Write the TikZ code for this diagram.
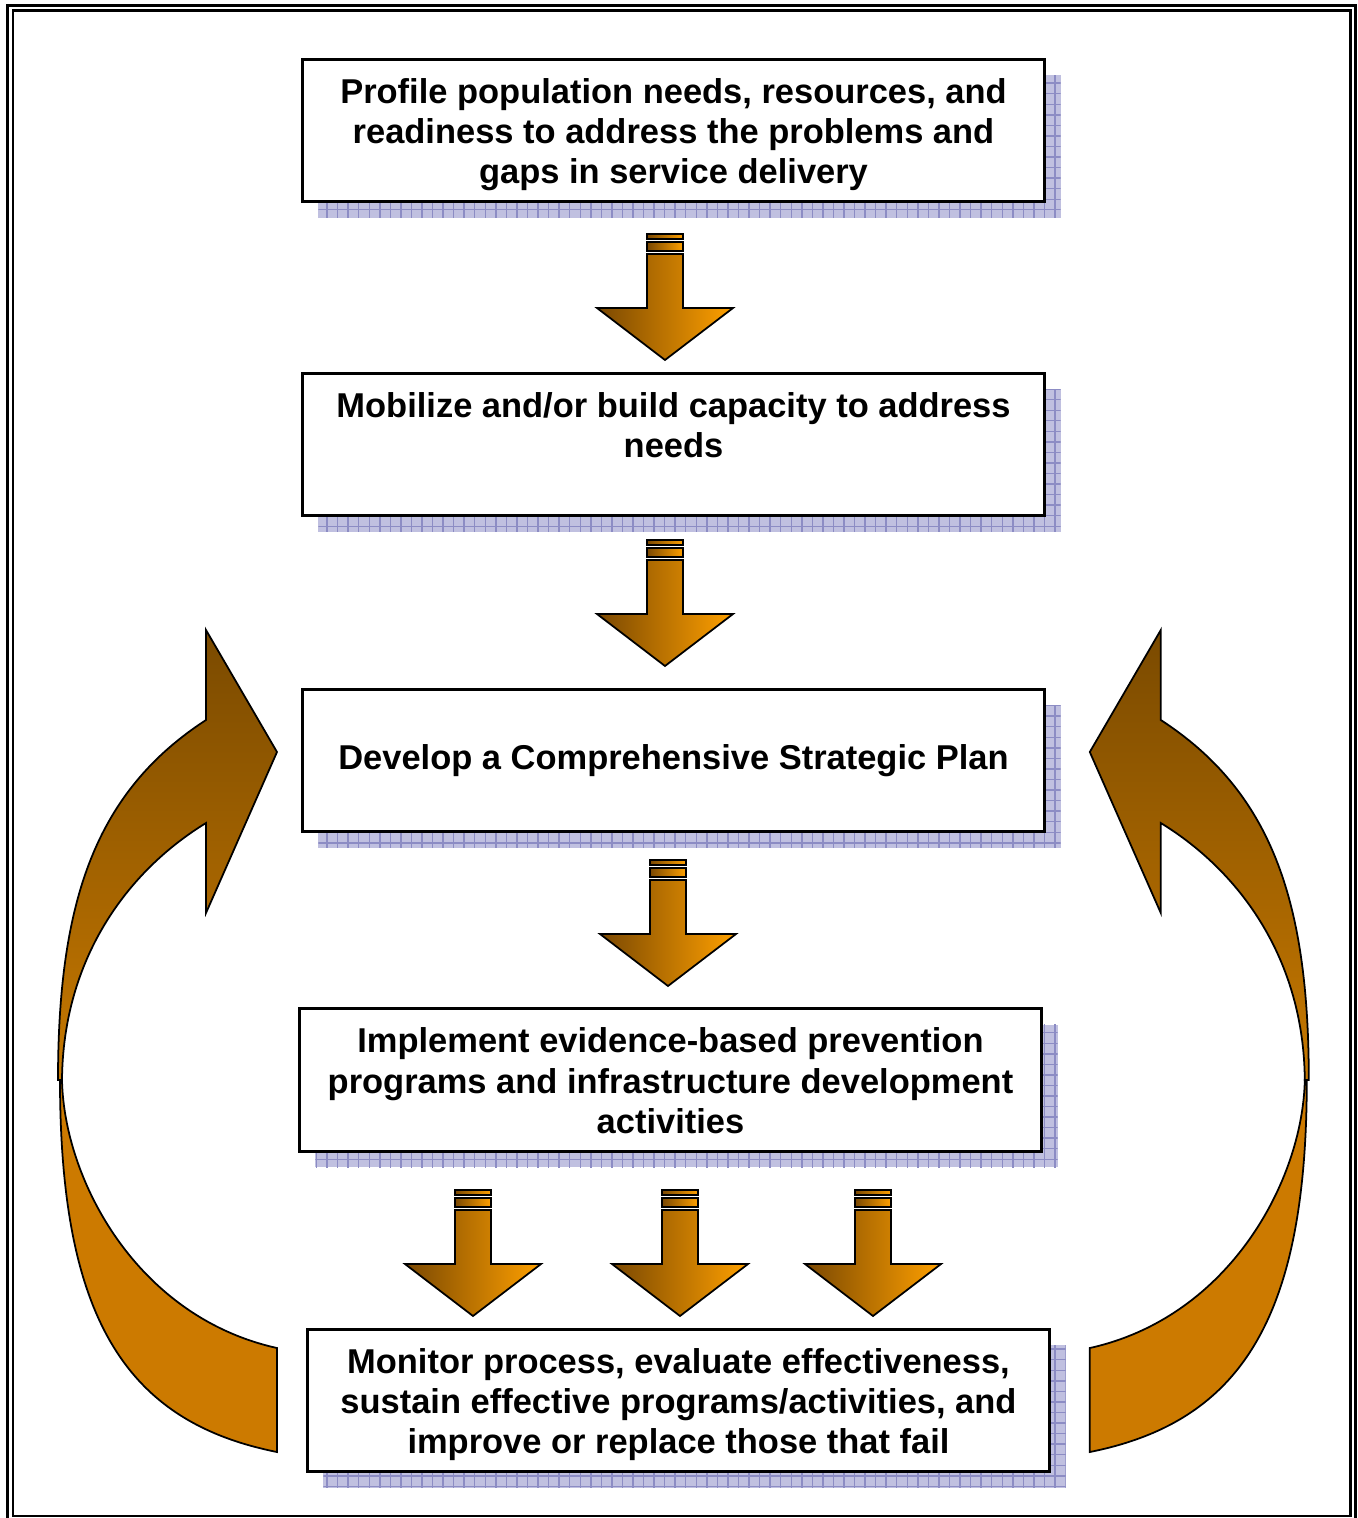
\documentclass[tikz,border=0pt]{standalone}
\usepackage{fontspec}
\setmainfont{Liberation Sans}
\usetikzlibrary{patterns,shadings}

\definecolor{arrowdark}{RGB}{122,72,2}
\definecolor{arroworange}{RGB}{255,160,0}
\definecolor{loopface}{RGB}{204,122,0}
\definecolor{looptop}{RGB}{122,74,0}
\definecolor{loopbottom}{RGB}{198,120,0}
\definecolor{shadefill}{RGB}{192,192,224}
\definecolor{shadegrid}{RGB}{140,140,196}

\newcommand{\boxtext}[2][t]{\parbox[c][1.04cm][#1]{7.3cm}{\centering #2}}

\newcommand{\flowarrow}[2]{%
  \draw[arrowpart] ({#1-18},{#2}) rectangle ({#1+18},{#2+5});
  \draw[arrowpart] ({#1-18},{#2+8}) rectangle ({#1+18},{#2+17});
  \draw[arrowpart] ({#1-18},{#2+20}) -- ({#1+18},{#2+20}) -- ({#1+18},{#2+74}) -- ({#1+68},{#2+74})
    -- ({#1},{#2+126}) -- ({#1-68},{#2+74}) -- ({#1-18},{#2+74}) -- cycle;
}

\newcommand{\loopback}{%
  \draw[backface] (60,1080) .. controls (60,1320) and (127,1422) .. (277,1452) -- (277,1348)
    .. controls (137,1317) and (64,1180) .. (62,1080) -- cycle;
  \draw[frontface] (206,720) -- (206,630) -- (277,752) -- (206,913) -- (206,823)
    .. controls (126,872) and (63,960) .. (62,1080) -- (58,1080)
    .. controls (58,900) and (96,791.5) .. (206,720) -- cycle;
}

\begin{document}
\begin{tikzpicture}[x=0.01cm,y=-0.01cm,
    stepbox/.style={draw, line width=0.85pt, fill=white, minimum width=7.42cm, minimum height=1.42cm,
      inner xsep=0pt, inner ysep=0.19cm, font=\fontsize{9.8}{11.4}\selectfont\bfseries,
      preaction={fill=shadefill, transform canvas={xshift=0.16cm,yshift=-0.16cm}},
      preaction={pattern=grid, pattern color=shadegrid, transform canvas={xshift=0.16cm,yshift=-0.16cm}}},
    arrowpart/.style={draw, line width=0.5pt, left color=arrowdark, right color=arroworange},
    backface/.style={draw, line width=0.5pt, fill=loopface},
    frontface/.style={draw, line width=0.5pt, top color=looptop, bottom color=loopbottom}]
  \useasboundingbox (0,0) rectangle (1358,1518);
  \draw[line width=0.85pt] (7.5,5.5) rectangle (1355.5,1530);
  \draw[line width=0.6pt] (13,10.5) rectangle (1350.5,1516);

  \node[stepbox] (profile) at (673.5,130.5) {\boxtext{Profile population needs, resources, and\\ readiness to address the problems and\\ gaps in service delivery}};
  \node[stepbox] (mobilize) at (673.5,444.5) {\boxtext{Mobilize and/or build capacity to address\\ needs}};
  \node[stepbox] (plan) at (673.5,760.5) {\boxtext[c]{Develop a Comprehensive Strategic Plan}};
  \node[stepbox] (implement) at (670.5,1080) {\boxtext{Implement evidence-based prevention\\ programs and infrastructure development\\ activities}};
  \node[stepbox] (monitor) at (678.5,1400.5) {\boxtext{Monitor process, evaluate effectiveness,\\ sustain effective programs/activities, and\\ improve or replace those that fail}};

  \flowarrow{665}{234}
  \flowarrow{665}{540}
  \flowarrow{668}{860}
  \flowarrow{473}{1190}
  \flowarrow{680}{1190}
  \flowarrow{873}{1190}

  \loopback
  \begin{scope}[xshift=13.66cm,xscale=-1]
    \loopback
  \end{scope}
\end{tikzpicture}
\end{document}
